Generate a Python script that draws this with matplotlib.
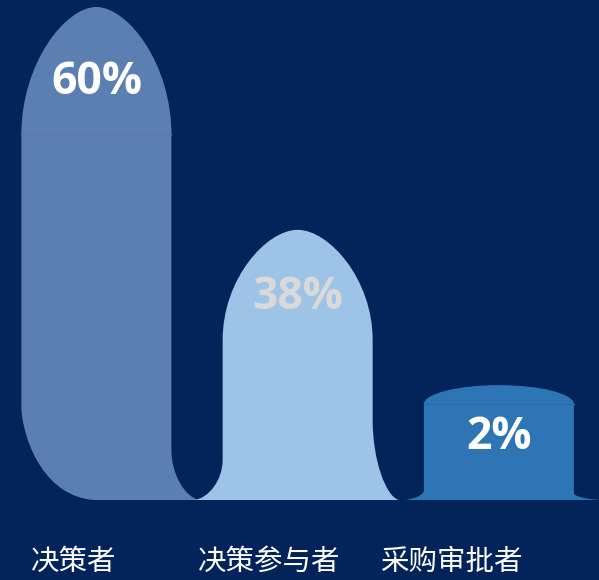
import matplotlib
matplotlib.use("Agg")
import matplotlib.pyplot as plt
from matplotlib.path import Path
from matplotlib.patches import PathPatch
import numpy as np

# ---------------- data ----------------
categories = ["决策者", "决策参与者", "采购审批者"]
percent_values = [60, 38, 2]
symbol_heights = [100, 54.8, 23.3]   # relative visual height of each pictorial bar (tallest = 100)

# ---------------- style ----------------
BG = "#03245a"
bar_colors = ["#5b7fb0", "#9dc3e6", "#2e75b6"]
seam_colors = ["#5779a9", None, "#2b6aa6"]
value_colors = ["#ffffff", "#d9d9d9", "#ffffff"]
cap_px = [127, 110, 19]               # height of the rounded top
cap_k = [(0.55, 0.42), (0.55, 0.42), (0.55, 0.55)]
# bottom treatment per bar: (left_mode, left_h, left_w, right_h, right_w) in px
bottoms = [("in", 90, 73, 50, 28),
           ("out", 40, 28, 80, 26),
           ("out", 10, 20, 7, 28)]
value_drop_px = [75, 68, 52]
label_shift_px = [-23, -28, -47]

W_PX, H_PX = 599, 580
fig = plt.figure(figsize=(W_PX / 100, H_PX / 100), dpi=100)
fig.patch.set_facecolor(BG)
ax = fig.add_axes([0, 0, 1, 1])
ax.set_facecolor(BG)
ax.axis("off")

ux = 201.25      # px per category step
uy = 4.93        # px per height unit
x_first_px = 96.4
base_px = 80
ax.set_xlim(-x_first_px / ux, (W_PX - x_first_px) / ux)
ax.set_ylim(-base_px / uy, (H_PX - base_px) / uy)


def dx(p):
    return p / ux


def dy(p):
    return p / uy


x = np.arange(len(categories))
half_w = dx(75)

for i, (cx, h) in enumerate(zip(x, symbol_heights)):
    x0, x1 = cx - half_w, cx + half_w
    cb = dy(cap_px[i])
    yc = h - cb
    k1, k2 = cap_k[i]
    lmode, lh, lw, rh, rw = bottoms[i]
    verts, codes = [], []
    if lmode == "in":
        # bottom-left corner rounded inward
        verts += [(x0 + dx(lw), 0),
                  (x0 + dx(25), dy(3)), (x0 + dx(3), dy(55)), (x0, dy(lh))]
    else:
        # bottom-left flares outward
        verts += [(x0 - dx(lw), 0),
                  (x0 - dx(lw * 0.5), dy(lh * 0.05)), (x0, dy(lh * 0.5)), (x0, dy(lh))]
    codes += [Path.MOVETO, Path.CURVE4, Path.CURVE4, Path.CURVE4]
    # left side up
    verts += [(x0, yc)]
    codes += [Path.LINETO]
    # rounded top
    verts += [(x0, yc + k1 * cb), (cx - k2 * half_w, h), (cx, h),
              (cx + k2 * half_w, h), (x1, yc + k1 * cb), (x1, yc)]
    codes += [Path.CURVE4] * 6
    # right side down
    verts += [(x1, dy(rh))]
    codes += [Path.LINETO]
    verts += [(x1, dy(rh * 0.5)), (x1 + dx(rw * 0.5), dy(rh * 0.05)), (x1 + dx(rw), 0)]
    codes += [Path.CURVE4] * 3
    verts += [verts[0]]
    codes += [Path.CLOSEPOLY]
    ax.add_patch(PathPatch(Path(verts, codes), facecolor=bar_colors[i],
                           edgecolor="none", zorder=2))
    if seam_colors[i]:
        ax.plot([x0, x1], [yc, yc], color=seam_colors[i], lw=1, zorder=3)

    ax.text(cx, h - dy(value_drop_px[i]), f"{percent_values[i]}%",
            ha="center", va="center", fontsize=32, fontweight="bold",
            family=["Open Sans", "DejaVu Sans"], color=value_colors[i], zorder=4)

    ax.text(cx + dx(label_shift_px[i]), dy(-62), categories[i],
            ha="center", va="center", fontsize=20.5,
            family=["Noto Sans CJK SC", "DejaVu Sans"], color="white", zorder=4)

fig.savefig("out.png", dpi=100, facecolor=BG)
